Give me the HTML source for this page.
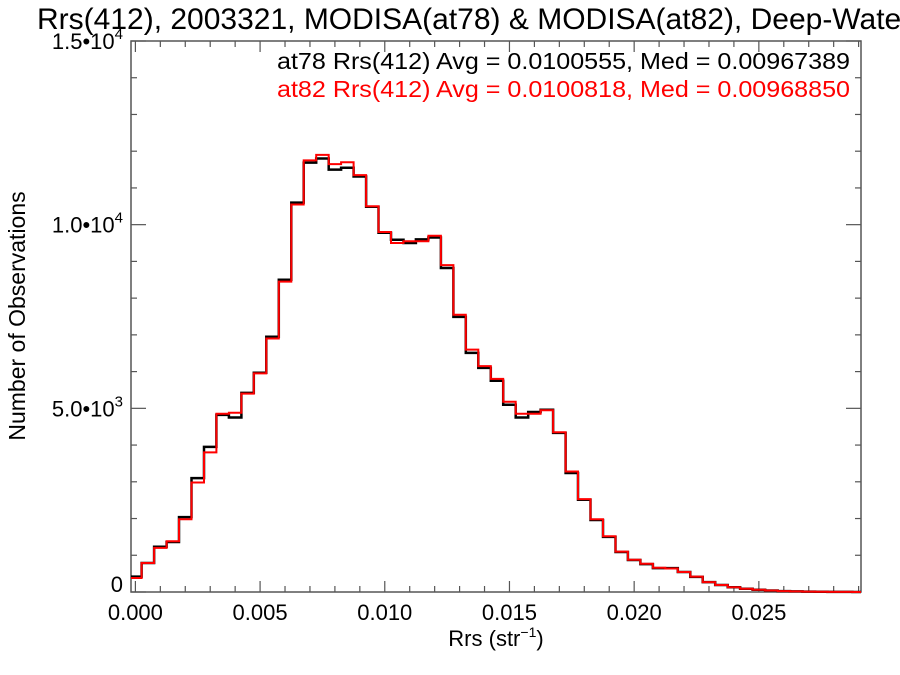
<!DOCTYPE html>
<html><head><meta charset="utf-8"><style>
body{margin:0;background:#fff;}
svg{display:block;font-family:"Liberation Sans",sans-serif;}
</style></head><body>
<svg id="chart" width="900" height="675" viewBox="0 0 900 675">
<rect x="0" y="0" width="900" height="675" fill="#fff"/>
<text x="37" y="29" font-size="30">Rrs(412), 2003321, MODISA(at78) &amp; MODISA(at82), Deep-Water</text>
<g id="axes"></g>
<g id="series"></g>
<text x="277" y="69" font-size="23" textLength="573" lengthAdjust="spacingAndGlyphs">at78 Rrs(412) Avg = 0.0100555, Med = 0.00967389</text>
<text x="277" y="97" font-size="23" textLength="573" lengthAdjust="spacingAndGlyphs" fill="#ff0000">at82 Rrs(412) Avg = 0.0100818, Med = 0.00968850</text>
<text x="496" y="646" font-size="22" text-anchor="middle">Rrs (str<tspan font-size="14" dy="-9">−1</tspan><tspan dy="9">)</tspan></text>
<text transform="translate(25,316) rotate(-90)" font-size="23" text-anchor="middle">Number of Observations</text>
</svg>
<script>
const binCenters = [0,0.0005,0.001,0.0015,0.002,0.0025,0.003,0.0035,0.004,0.0045,0.005,0.0055,0.006,0.0065,0.007,0.0075,0.008,0.0085,0.009,0.0095,0.010,0.0105,0.011,0.0115,0.012,0.0125,0.013,0.0135,0.014,0.0145,0.015,0.0155,0.016,0.0165,0.017,0.0175,0.018,0.0185,0.019,0.0195,0.020,0.0205,0.021,0.0215,0.022,0.0225,0.023,0.0235,0.024,0.0245,0.025,0.0255,0.026,0.0265,0.027,0.0275,0.028,0.0285,0.029];
const at78Counts = [420,790,1230,1360,2040,3100,3950,4820,4750,5420,5970,6950,8500,10600,11690,11800,11500,11550,11310,10490,9780,9590,9500,9600,9650,8820,7490,6510,6100,5750,5100,4750,4900,4960,4330,3240,2510,1960,1500,1090,870,760,650,650,545,410,270,190,130,90,60,40,25,15,10,5,3,2,1];
const at82Counts = [380,790,1200,1380,1980,2980,3800,4850,4880,5400,5950,6900,8450,10550,11750,11900,11650,11700,11350,10500,9800,9500,9550,9550,9700,8900,7550,6600,6150,5800,5180,4850,4850,4950,4350,3280,2530,1980,1520,1100,880,770,660,640,545,420,270,190,130,90,60,40,25,15,10,5,3,2,1];
const xTickVals = [0,0.005,0.010,0.015,0.020,0.025];
const xTickLabels = ["0.000","0.005","0.010","0.015","0.020","0.025"];
const yTickVals = [0,5000,10000,15000];
const yTickMant = ["0","5.0•10","1.0•10","1.5•10"];
const yTickExp = ["","3","4","4"];

const NS="http://www.w3.org/2000/svg";
const L=131,R=861,T=41,B=592;
const xMin=-0.000176,xMax=0.029096,yMax=15000;
function xs(v){return L+(v-xMin)/(xMax-xMin)*(R-L);}
function ys(v){return B-v/yMax*(B-T);}
function mk(tag,attrs,parent){const e=document.createElementNS(NS,tag);for(const k in attrs)e.setAttribute(k,attrs[k]);parent.appendChild(e);return e;}
const ax=document.getElementById('axes');
const frame=mk('rect',{x:L,y:T,width:R-L,height:B-T,fill:'none',stroke:'#555','stroke-width':1.5},ax);


for(let v=0;v<=0.02901;v+=0.001){
  const major=Math.abs(v/0.005-Math.round(v/0.005))<1e-6;
  const len=major?11:6, x=xs(v);
  mk('line',{x1:x,y1:B,x2:x,y2:B-len,stroke:'#555','stroke-width':1.2},ax);
  mk('line',{x1:x,y1:T,x2:x,y2:T+len,stroke:'#555','stroke-width':1.2},ax);
}
xTickVals.forEach((v,i)=>{
  const t=mk('text',{x:xs(v),y:620,'font-size':22,'text-anchor':'middle'},ax);
  t.textContent=xTickLabels[i];
  
  
});
for(let v=0;v<=15000;v+=1000){
  const major=v%5000===0, len=major?15:6, y=ys(v);
  mk('line',{x1:L,y1:y,x2:L+len,y2:y,stroke:'#555','stroke-width':1.2},ax);
  mk('line',{x1:R,y1:y,x2:R-len,y2:y,stroke:'#555','stroke-width':1.2},ax);
}
yTickVals.forEach((v,i)=>{
  const t=mk('text',{x:123,y:ys(v)+(v===0?0:8),'font-size':22,'text-anchor':'end'},ax);
  
  
  const m=mk('tspan',{},t); m.textContent=yTickMant[i];
  if(yTickExp[i]){const e=mk('tspan',{'font-size':15,dy:-10},t); e.textContent=yTickExp[i];}
});
function stepPath(vals){
  const hw=0.00025;let d='';
  vals.forEach((c,i)=>{
    const x0=Math.max(L,xs(binCenters[i]-hw)),x1=Math.min(R,xs(binCenters[i]+hw)),y=ys(c);
    d+=(i===0?'M':'L')+x0.toFixed(1)+','+y.toFixed(1)+'L'+x1.toFixed(1)+','+y.toFixed(1);
  });
  return d;
}
const sg=document.getElementById('series');
const p1=mk('path',{d:stepPath(at78Counts),fill:'none',stroke:'#000','stroke-width':2.5},sg);


const p2=mk('path',{d:stepPath(at82Counts),fill:'none',stroke:'#ff0000','stroke-width':2},sg);


</script>
</body></html>
